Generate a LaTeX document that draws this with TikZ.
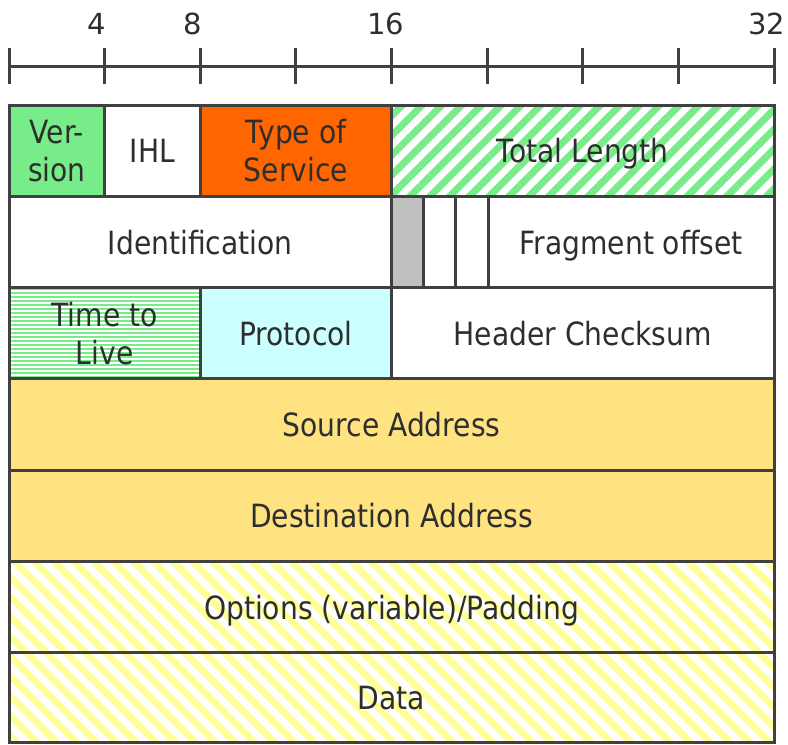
\documentclass[tikz,border=0pt]{standalone}
\usepackage{fontspec}
\setmainfont[FakeStretch=0.88]{DejaVu Sans}
\newfontfamily\digitfont{DejaVu Sans}
\usetikzlibrary{patterns.meta}
\definecolor{linec}{HTML}{404040}
\definecolor{textc}{HTML}{2E2E2E}
\definecolor{vgreen}{HTML}{77EC88}
\definecolor{orng}{HTML}{FF6600}
\definecolor{cyanf}{HTML}{CCFFFF}
\definecolor{yellf}{HTML}{FFE380}
\definecolor{grayf}{HTML}{C0C0C0}
\definecolor{hyell}{HTML}{FFFF99}
\begin{document}
\begin{tikzpicture}[x=1pt,y=-1pt,
  field/.style={draw=linec, line width=3pt, anchor=north west, inner sep=0pt,
    outer sep=0pt, text=textc, align=center, text depth=0pt,
    font=\fontsize{32}{38}\selectfont},
  rulerlab/.style={anchor=base, text=textc, inner sep=0pt,
    font=\digitfont\fontsize{29}{34}\selectfont},
  ruleline/.style={draw=linec, line width=3pt},
  greenhatch/.style={pattern={Lines[angle=45,distance=14pt,line width=7pt]}, pattern color=vgreen},
  yellhatch/.style={pattern={Lines[angle=-45,distance=14pt,line width=7pt]}, pattern color=hyell},
  stripe/.style={draw=vgreen, line width=2.2pt}
]
\useasboundingbox[fill=white] (0,0) rectangle (788,745);
% ruler
\coordinate (r0) at (9,66);
\coordinate (r32) at (774,66);
\draw[ruleline] (r0) -- (r32);
\foreach \k in {0,...,8}{
  \coordinate (t\k) at ({9+\k*95.625},66);
  \draw[ruleline] ([yshift=-18pt]t\k.center) -- ([yshift=18pt]t\k.center);
}
\node[rulerlab] (l4) at (96.6,34) {4};
\node[rulerlab] (l8) at (192.3,34) {8};
\node[rulerlab] (l16) at (386,34) {16};
\node[rulerlab] (l32) at (767,34) {32};
% row 1
\node[field, fill=vgreen, minimum width=95.625pt, minimum height=91.2pt] (ver) at (9,105) {Ver-\\sion};
\node[field, fill=white, minimum width=95.625pt, minimum height=91.2pt] (ihl) at (104.625,105) {IHL};
\node[field, fill=orng, minimum width=191.25pt, minimum height=91.2pt] (tos) at (200.25,105) {Type of\\Service};
\node[field, fill=white, minimum width=382.5pt, minimum height=91.2pt] (tlbg) at (391.5,105) {};
\node[field, greenhatch, minimum width=382.5pt, minimum height=91.2pt] (tl) at (391.5,105) {Total Length};
% row 2
\node[field, fill=white, minimum width=382.5pt, minimum height=91.4pt] (ident) at (9,196.2) {Identification};
\node[field, fill=grayf, minimum width=32.2pt, minimum height=91.4pt] (f1) at (391.5,196.2) {};
\node[field, fill=white, minimum width=32.2pt, minimum height=91.4pt] (f2) at (423.7,196.2) {};
\node[field, fill=white, minimum width=32.3pt, minimum height=91.4pt] (f3) at (455.9,196.2) {};
\node[field, fill=white, minimum width=285.8pt, minimum height=91.4pt] (frag) at (488.2,196.2) {Fragment offset};
% row 3
\node[field, fill=white, minimum width=191.25pt, minimum height=91.3pt] (ttlbg) at (9,287.6) {};
\begin{scope}
  \clip (ttlbg.north west) rectangle (ttlbg.south east);
  \foreach \yy in {0,4,...,92}{
    \draw[stripe] ([yshift=-\yy pt-1pt]ttlbg.north west) -- ([yshift=-\yy pt-1pt]ttlbg.north east);
  }
\end{scope}
\node[field, minimum width=191.25pt, minimum height=91.3pt] (ttl) at (9,287.6) {Time to\\Live};
\node[field, fill=cyanf, minimum width=191.25pt, minimum height=91.3pt] (proto) at (200.25,287.6) {Protocol};
\node[field, fill=white, minimum width=382.5pt, minimum height=91.3pt] (chk) at (391.5,287.6) {Header Checksum};
% full-width rows
\node[field, fill=yellf, minimum width=765pt, minimum height=91.2pt] (src) at (9,378.9) {Source Address};
\node[field, fill=yellf, minimum width=765pt, minimum height=91.2pt] (dst) at (9,470.1) {Destination Address};
\node[field, fill=white, minimum width=765pt, minimum height=91.1pt] (optbg) at (9,561.3) {};
\node[field, yellhatch, minimum width=765pt, minimum height=91.1pt] (opt) at (9,561.3) {Options (variable)/Padding};
\node[field, fill=white, minimum width=765pt, minimum height=90.2pt] (databg) at (9,652.4) {};
\node[field, yellhatch, minimum width=765pt, minimum height=90.2pt] (data) at (9,652.4) {Data};
\end{tikzpicture}
\end{document}
